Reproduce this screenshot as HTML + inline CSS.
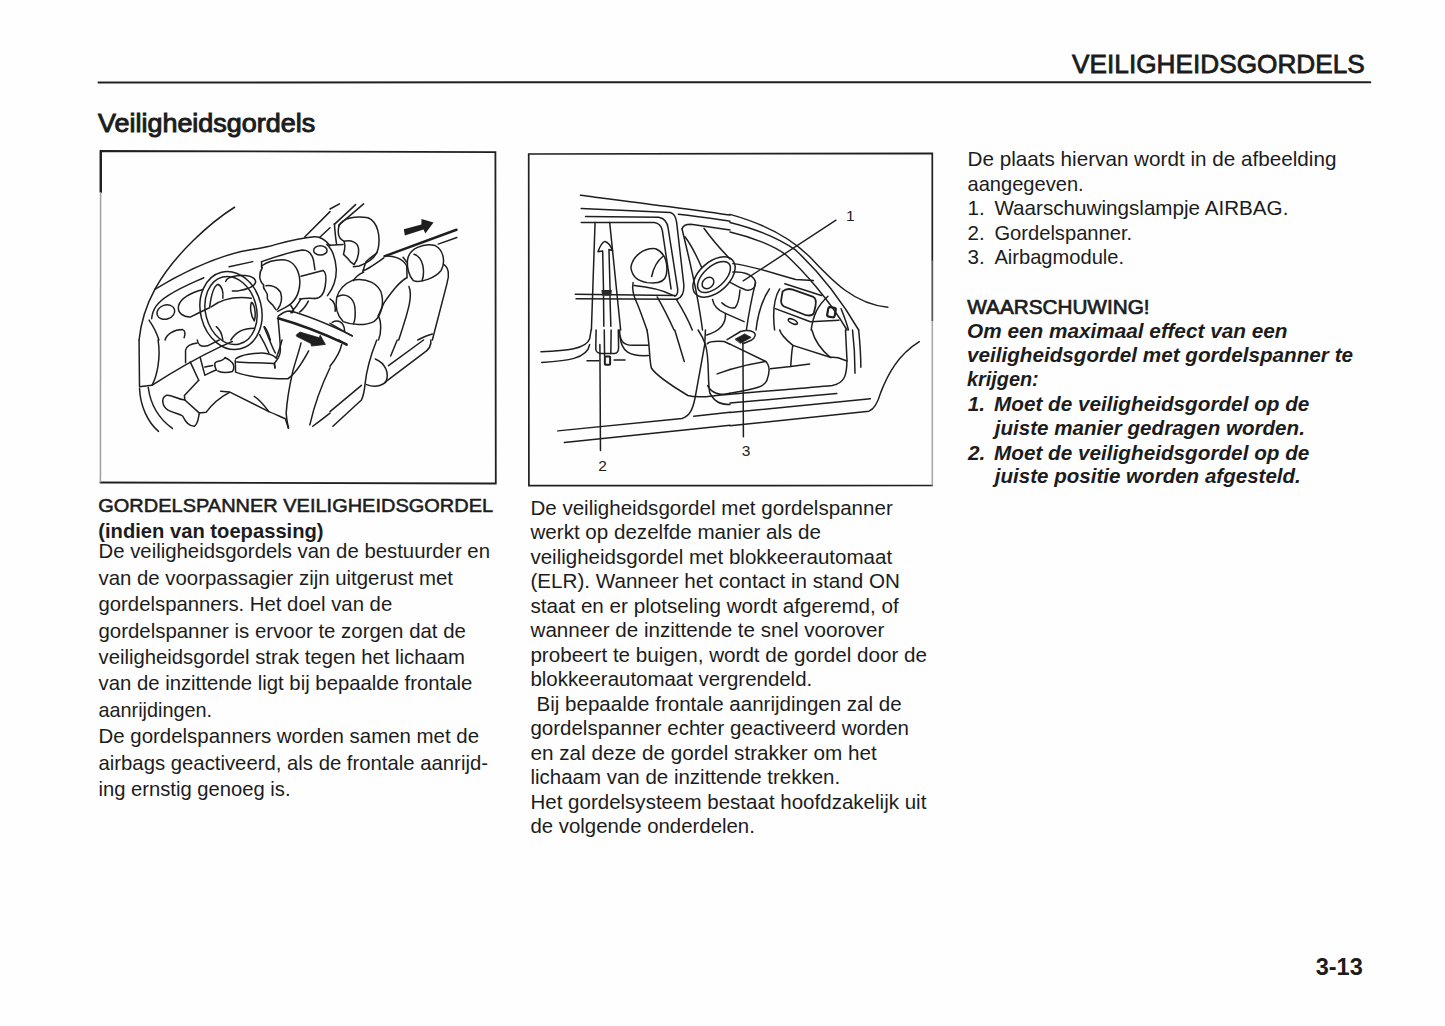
<!DOCTYPE html>
<html><head><meta charset="utf-8"><style>
html,body{margin:0;padding:0;background:#fff;width:1445px;height:1026px;overflow:hidden}
svg{display:block}
text{font-family:"Liberation Sans",sans-serif;fill:#1c1c1c}
</style></head><body>
<svg width="1445" height="1026" viewBox="0 0 1445 1026">
<rect width="1445" height="1026" fill="#fefefe"/>
<g stroke="#202020" fill="none" stroke-linecap="round">
<path d="M98.5,82.4 L1370.3,82.2" stroke-width="2"/>
<path d="M100.8,192 L100.8,151 L495.4,152.1 L495.8,483.5 L100.4,482.5" stroke-width="1.8"/>
<path d="M100.8,151 L100.8,192" stroke-width="2.4"/>
<path d="M100.6,192 L100.4,482.5" stroke-width="1.5" stroke="#a0a0a0" stroke-linecap="butt"/>
<path d="M932.3,485.5 L528.9,485.7 L528.7,154 L932.3,153.4 L932.3,260" stroke-width="1.7"/>
<path d="M932.3,260 L932.3,321" stroke-width="1.8" stroke="#5a5a5a" stroke-linecap="butt"/>
<path d="M932.3,321 L932.3,485.5" stroke-width="1.6" stroke="#a8a8a8" stroke-linecap="butt"/>
</g>
<g transform="translate(130,190) scale(0.146199)" stroke="#1e1e1e" fill="none" stroke-width="1.5" vector-effect="non-scaling-stroke" stroke-linecap="round" stroke-linejoin="round">
<path vector-effect="non-scaling-stroke" d="M715,118 C560,215 300,440 170,680 C110,790 75,900 62,1026"/>
<path vector-effect="non-scaling-stroke" d="M170,680 C300,600 520,480 760,420 C870,400 930,395 1000,372 C1100,345 1200,325 1260,320 C1300,318 1340,345 1368,380"/>
<path vector-effect="non-scaling-stroke" d="M1195,322 L1368,148 M1300,322 L1368,258"/>
<ellipse vector-effect="non-scaling-stroke" cx="1302" cy="413" rx="46" ry="32"/>
<path vector-effect="non-scaling-stroke" d="M148,880 C155,815 185,770 260,722 C360,660 440,630 505,600"/>
<path vector-effect="non-scaling-stroke" d="M678,525 L840,490"/>
<ellipse vector-effect="non-scaling-stroke" cx="245" cy="835" rx="62" ry="48" transform="rotate(-18 245 835)"/>
<path vector-effect="non-scaling-stroke" d="M500,680 C420,700 345,740 332,792 C322,840 365,870 415,868 C460,845 500,825 545,805"/>
<path vector-effect="non-scaling-stroke" d="M130,890 C165,940 185,985 198,1026"/>
<path vector-effect="non-scaling-stroke" d="M240,1026 C250,985 300,955 360,955 C378,960 380,985 370,1010"/>
<path vector-effect="non-scaling-stroke" d="M900,490 C1000,455 1100,420 1180,410 C1220,410 1245,440 1255,480 L1265,545"/>
<path vector-effect="non-scaling-stroke" d="M900,490 L900,530"/>
<path vector-effect="non-scaling-stroke" d="M900,520 C940,490 1000,475 1060,478 C1130,490 1160,560 1162,630 C1160,700 1130,770 1060,805 L1010,830"/>
<path vector-effect="non-scaling-stroke" d="M905,530 C880,570 880,620 915,650 C900,680 945,690 940,730 C930,760 975,775 985,800 L1000,820"/>
<path vector-effect="non-scaling-stroke" d="M930,655 C960,650 1010,660 1030,700 C1045,750 1030,790 1010,815"/>
<path vector-effect="non-scaling-stroke" d="M1170,590 L1320,550 C1340,560 1345,600 1335,660 C1325,720 1300,745 1260,742"/>
<path vector-effect="non-scaling-stroke" d="M1160,745 C1200,740 1240,740 1262,742"/>
<path vector-effect="non-scaling-stroke" d="M1100,790 C1120,820 1125,830 1110,840 M1220,760 C1200,800 1180,820 1160,835 M1170,745 C1150,780 1130,810 1100,840"/>
<path vector-effect="non-scaling-stroke" d="M655,625 C660,600 720,580 790,585 C840,590 865,610 858,635 C850,660 800,680 740,690 L700,690"/>
<path vector-effect="non-scaling-stroke" d="M545,800 C555,720 570,660 600,645 C630,655 640,700 635,740"/>
<path vector-effect="non-scaling-stroke" d="M555,800 C620,750 700,725 830,740"/>
<path vector-effect="non-scaling-stroke" d="M830,770 C820,800 825,860 850,895 C860,870 860,800 835,770"/>
<path vector-effect="non-scaling-stroke" d="M690,1026 C720,975 770,945 850,945"/>
<path vector-effect="non-scaling-stroke" d="M590,935 C610,950 630,990 635,1026"/>
<path vector-effect="non-scaling-stroke" d="M920,935 C940,960 950,990 960,1026"/>
</g>

<g stroke="#1e1e1e" fill="none" stroke-linecap="round" stroke-linejoin="round" stroke-width="1.5">
<path d="M707.3,343.8 C709,341.5 714.9,340.9 724.2,341.5 L730,344.3"/>
<path d="M727.1,339.7 L740.6,331.5 C744,330.5 748,330.3 749.9,330.7 C753.5,331.5 755.5,333.5 755.2,335.6 C754.5,338 752.5,339.5 751.1,340.3 L742.9,343.8"/>
<path d="M735.3,339.1 L744.7,333.9 L751.1,337.4 L740.6,343.2 Z" fill="#1e1e1e" stroke-width="0.8"/>
<path d="M742.9,342.6 L743.4,436.7"/>
<path d="M712.5,299.4 C713.7,306.4 719.5,311.1 725.4,313.4 L744.1,321.6"/>
<path d="M725.4,313.4 C726,320.4 724.2,329.8 706.7,335"/>
<path d="M721.9,302.9 C726.5,307.5 732.4,308.7 735.3,307.5 C738.2,304 739.4,297 740,290"/>
</g>

<g transform="translate(330,190) scale(0.146199)" stroke="#1e1e1e" fill="none" stroke-linecap="round" stroke-linejoin="round">
<path vector-effect="non-scaling-stroke" stroke-width="1.5" d="M0,130 L65,95 M30,235 L175,100 M60,240 L230,95"/>
<path vector-effect="non-scaling-stroke" stroke-width="1.5" d="M30,230 C35,300 40,340 45,370"/>
<path vector-effect="non-scaling-stroke" stroke-width="1.5" d="M60,250 C80,190 180,175 260,190 C330,220 345,320 330,400 C320,450 280,490 200,520 L160,525"/>
<path vector-effect="non-scaling-stroke" stroke-width="1.5" d="M60,250 C50,300 60,335 95,350 C150,340 190,360 195,400 C200,460 180,490 165,510"/>
<path vector-effect="non-scaling-stroke" stroke-width="1.5" d="M95,350 C110,380 100,410 92,440 C110,455 125,470 140,492 L165,510"/>
<path vector-effect="non-scaling-stroke" stroke-width="1.5" d="M322,429 C290,455 260,475 245,492 L224,558 M368,464 C340,485 310,505 294,516 C270,530 250,545 231,551"/>
<path vector-effect="non-scaling-stroke" stroke-width="2.5" d="M375,452 L865,272"/>
<path vector-effect="non-scaling-stroke" stroke-width="1.5" d="M740,370 L868,325"/>
<path stroke="none" fill="#1e1e1e" d="M505,268 L625,236 L626,198 L708,222 L652,298 L640,270 L512,312 Z"/>
<path vector-effect="non-scaling-stroke" stroke-width="1.5" d="M530,480 C540,400 640,360 720,380 C780,410 790,500 760,550 C720,600 620,640 570,620 C540,590 525,530 530,480 Z"/>
<path vector-effect="non-scaling-stroke" stroke-width="1.5" d="M575,440 C640,460 650,560 630,620"/>
<path vector-effect="non-scaling-stroke" stroke-width="1.5" d="M780,510 C810,530 820,580 800,640 L700,1026"/>
<path vector-effect="non-scaling-stroke" stroke-width="1.5" d="M525,600 C470,630 420,700 370,770 L330,860"/>
<path vector-effect="non-scaling-stroke" stroke-width="1.5" d="M540,660 C565,720 545,800 470,1026"/>
<path vector-effect="non-scaling-stroke" stroke-width="1.5" d="M160,615 C250,600 340,640 355,720 C370,800 340,870 300,900 C240,930 150,925 90,900 C50,860 35,800 45,740 C60,680 100,640 160,615 Z"/>
<path vector-effect="non-scaling-stroke" stroke-width="1.5" d="M50,730 C100,700 160,730 170,800 C175,850 168,900 160,915"/>
<path vector-effect="non-scaling-stroke" stroke-width="1.5" d="M161,621 C175,590 200,575 231,562"/>
<path vector-effect="non-scaling-stroke" stroke-width="1.5" d="M371,452 C430,445 500,470 525,520 L527,600"/>
<path vector-effect="non-scaling-stroke" stroke-width="1.5" d="M330,860 C352,900 352,980 332,1026"/>
<path vector-effect="non-scaling-stroke" stroke-width="1.5" d="M0,912 L152,1000 M15,905 C60,880 95,910 100,960"/>
<path vector-effect="non-scaling-stroke" stroke-width="1.5" d="M0,745 C30,760 40,800 35,830"/>
<path vector-effect="non-scaling-stroke" stroke-width="1.5" d="M0,378 L90,372"/>
<path vector-effect="non-scaling-stroke" stroke-width="1.5" d="M600,1026 C640,1005 680,990 700,985"/>
<path vector-effect="non-scaling-stroke" stroke-width="1.5" d="M500,460 L530,500"/>
</g>

<g transform="translate(130,340) scale(0.146199)" stroke="#1e1e1e" fill="none" stroke-linecap="round" stroke-linejoin="round">
<path vector-effect="non-scaling-stroke" stroke-width="1.5" d="M62,0 L65,320 L150,310 C250,245 420,140 620,45 L700,10"/>
<path vector-effect="non-scaling-stroke" stroke-width="1.5" d="M150,310 C185,250 212,120 192,0"/>
<path vector-effect="non-scaling-stroke" stroke-width="1.5" d="M65,330 C70,450 120,560 195,625"/>
<path vector-effect="non-scaling-stroke" stroke-width="1.5" d="M125,325 C140,440 200,540 290,605"/>
<path vector-effect="non-scaling-stroke" stroke-width="1.5" d="M380,155 L380,70 C385,35 420,25 460,20"/>
<path vector-effect="non-scaling-stroke" stroke-width="1.5" d="M460,0 C465,30 480,50 530,40 L610,0"/>
<path vector-effect="non-scaling-stroke" stroke-width="1.5" d="M412,150 L470,275 M480,120 L512,240"/>
<path vector-effect="non-scaling-stroke" stroke-width="1.5" d="M470,275 L372,380 L375,410 C320,405 280,370 245,380 C215,395 215,450 260,480 C300,500 340,505 360,520 C380,560 400,590 440,590 C470,570 465,530 475,500 L520,495 C560,440 620,390 680,358"/>
<path vector-effect="non-scaling-stroke" stroke-width="1.5" d="M375,410 L475,500"/>
<path vector-effect="non-scaling-stroke" stroke-width="1.5" d="M620,350 L680,355 C760,395 850,440 950,490 C1000,510 1040,530 1062,538 C1070,560 1080,590 1082,602"/>
<path vector-effect="non-scaling-stroke" stroke-width="1.5" d="M850,385 C890,410 920,450 950,490"/>
<path vector-effect="non-scaling-stroke" stroke-width="1.5" d="M512,240 C540,230 560,215 590,205"/>
<path vector-effect="non-scaling-stroke" stroke-width="1.5" d="M512,185 L565,175"/>
<path vector-effect="non-scaling-stroke" stroke-width="1.5" d="M590,205 C580,180 570,160 590,150 C610,140 640,145 650,120 C670,130 690,145 700,155 C712,170 715,200 700,215 C670,225 620,225 600,212"/>
<path vector-effect="non-scaling-stroke" stroke-width="1.5" d="M720,140 L722,215"/>
<path vector-effect="non-scaling-stroke" stroke-width="1.5" d="M722,130 C760,100 850,88 920,90 C960,95 990,110 1000,125 C1010,100 1025,60 1040,0"/>
<path vector-effect="non-scaling-stroke" stroke-width="1.5" d="M730,150 C800,155 900,158 985,160 L992,190"/>
<path vector-effect="non-scaling-stroke" stroke-width="1.5" d="M722,220 C800,250 900,265 1080,265 C1120,240 1160,190 1222,75"/>
<path vector-effect="non-scaling-stroke" stroke-width="1.5" d="M1170,20 C1150,100 1120,180 1110,230 C1090,320 1075,400 1068,500 C1072,540 1078,580 1085,602"/>
<path vector-effect="non-scaling-stroke" stroke-width="1.5" d="M1230,580 C1260,450 1300,330 1368,190"/>
<path vector-effect="non-scaling-stroke" stroke-width="1.5" d="M1250,590 C1290,560 1330,530 1368,500"/>

</g>
<g stroke="#1e1e1e" fill="none">
<ellipse cx="231" cy="310.5" rx="30.5" ry="39.5" transform="rotate(-14 231 310.5)" stroke-width="1.5"/>
<ellipse cx="231" cy="310.5" rx="25.5" ry="34.5" transform="rotate(-14 231 310.5)" stroke-width="1.5"/>
</g>

<g transform="translate(330,340) scale(0.146199)" stroke="#1e1e1e" fill="none" stroke-linecap="round" stroke-linejoin="round">
<path vector-effect="non-scaling-stroke" stroke-width="1.5" d="M0,180 C40,130 70,80 80,30 M60,0 L115,35"/>
<path vector-effect="non-scaling-stroke" stroke-width="1.5" d="M320,0 C280,100 250,200 240,300 C235,350 230,380 215,410 L20,590"/>
<path vector-effect="non-scaling-stroke" stroke-width="1.5" d="M215,310 L0,490"/>
<path vector-effect="non-scaling-stroke" stroke-width="1.5" d="M310,130 C380,160 410,230 380,290 C340,320 290,320 250,305"/>
<path vector-effect="non-scaling-stroke" stroke-width="1.5" d="M460,0 L415,110 M640,0 L400,175 M690,0 C695,40 670,70 640,90 L375,290"/>
</g>

<g stroke="#1e1e1e" fill="none" stroke-linecap="round" stroke-linejoin="round">
<path d="M278.1,318.3 C295,323 320,332 346.5,344.4" stroke-width="2.6"/>
<path d="M278.1,316.3 C282,313 286,311 290,311 C310,316 330,325 352.2,335.6" stroke-width="1.5"/>
<path d="M296.5,334.7 L300,332.1 L319.3,337.8 L320.2,335.2 L325.4,344.4 L311.4,346.1 L311,343.5 L296.9,336.5 Z" fill="#1e1e1e" stroke-width="0.8"/>
<path d="M264,327 C269,338 273,350 275.4,353 M259.6,334.7 C264,342 267.6,350 268.9,353" stroke-width="1.5"/>
<path d="M278.1,319 C279,330 280.7,345 280.3,351 C280,357 277,360 274.6,363 L275,368" stroke-width="1.5"/>
<path d="M326.8,244.4 C332,249 335.5,258 336.3,269.2 C336.5,280 332,290 327.5,295.6" stroke-width="1.5"/>
</g>

<g transform="translate(530,180) scale(0.146199)" stroke="#1e1e1e" fill="none" stroke-linecap="round" stroke-linejoin="round">
<path vector-effect="non-scaling-stroke" stroke-width="1.5" d="M345,105 C700,150 1100,200 1368,240"/>
<path vector-effect="non-scaling-stroke" stroke-width="1.5" d="M350,195 L960,222 C985,228 998,255 1003,290 L1052,715 C1055,770 1040,800 1010,812"/>
<path vector-effect="non-scaling-stroke" stroke-width="1.5" d="M380,250 L880,255 C920,262 940,290 945,330 L1010,745 C1012,772 1002,790 990,795"/>
<path vector-effect="non-scaling-stroke" stroke-width="1.5" d="M350,290 L850,290 C880,295 900,320 905,345 L965,745"/>
<path vector-effect="non-scaling-stroke" stroke-width="1.5" d="M310,782 L990,790 M315,812 L1010,815"/>
<path vector-effect="non-scaling-stroke" stroke-width="1.5" d="M445,290 L420,1026 M545,290 L620,1026"/>
<path vector-effect="non-scaling-stroke" stroke-width="1.5" d="M497,485 L465,490 C480,450 495,425 512,420 C535,425 555,455 565,482 L540,475 L548,758 M497,485 L503,758"/>
<path stroke="none" fill="#2a2a2a" d="M488,752 L560,752 L556,792 L494,792 Z"/>
<path vector-effect="non-scaling-stroke" stroke-width="1.5" d="M503,795 L505,1000 M547,795 L553,1000"/>
<path vector-effect="non-scaling-stroke" stroke-width="1.5" d="M690,600 C700,520 780,462 860,470 C930,500 945,580 932,650 C920,700 870,712 800,702 C730,690 700,660 690,600 Z"/>
<path vector-effect="non-scaling-stroke" stroke-width="1.5" d="M912,520 C862,560 842,610 832,660"/>
<path vector-effect="non-scaling-stroke" stroke-width="1.5" d="M705,702 C698,740 705,790 735,850 C760,910 780,970 800,1026"/>
<path vector-effect="non-scaling-stroke" stroke-width="1.5" d="M712,722 C800,730 900,750 975,788"/>
<path vector-effect="non-scaling-stroke" stroke-width="1.5" d="M870,800 C910,870 950,950 985,1026 M1000,815 C1040,880 1080,950 1110,1026"/>
<path vector-effect="non-scaling-stroke" stroke-width="1.5" d="M1015,235 C1150,250 1270,268 1368,282"/>
<path vector-effect="non-scaling-stroke" stroke-width="1.5" d="M1040,335 C1045,312 1065,302 1100,302 L1368,342"/>
<path vector-effect="non-scaling-stroke" stroke-width="1.5" d="M1040,335 C1080,500 1120,680 1140,780 C1155,860 1170,950 1180,1026"/>
<path vector-effect="non-scaling-stroke" stroke-width="1.5" d="M1060,388 C1100,440 1140,520 1175,600 M1190,330 C1240,400 1300,470 1368,540"/>
</g>
<g stroke="#1e1e1e" fill="none" stroke-width="1.5">
<ellipse cx="714" cy="277" rx="25" ry="15" transform="rotate(-42 714 277)"/>
<ellipse cx="714" cy="277" rx="20" ry="10.5" transform="rotate(-42 714 277)"/>
<ellipse cx="708" cy="283" rx="6.5" ry="5" transform="rotate(-42 708 283)"/>
</g>

<g transform="translate(730,180) scale(0.146199)" stroke="#1e1e1e" fill="none" stroke-linecap="round" stroke-linejoin="round">
<path vector-effect="non-scaling-stroke" stroke-width="1.5" d="M0,235 C200,290 400,380 550,530 C700,690 850,850 1080,870"/>
<path vector-effect="non-scaling-stroke" stroke-width="1.5" d="M0,290 C200,340 350,410 450,480 C600,620 760,820 880,1026"/>
<path vector-effect="non-scaling-stroke" stroke-width="1.5" d="M0,355 C150,390 300,450 380,510 C500,620 680,820 800,1026"/>
<path vector-effect="non-scaling-stroke" stroke-width="1.4" d="M90,690 L725,275"/>
<path vector-effect="non-scaling-stroke" stroke-width="1.5" d="M20,572 C150,585 300,640 450,680 L570,688"/>
<path vector-effect="non-scaling-stroke" stroke-width="1.5" d="M20,630 C80,625 150,640 172,690 C182,735 150,760 110,752 C80,745 40,720 0,700"/>
<path vector-effect="non-scaling-stroke" stroke-width="1.8" d="M360,762 C380,745 405,742 430,750 L570,800 C590,810 590,830 585,860 L575,905 C570,925 550,930 520,925 L370,865 C350,855 348,840 350,820 Z"/>
<path vector-effect="non-scaling-stroke" stroke-width="1.5" d="M375,710 L625,790"/>
<path vector-effect="non-scaling-stroke" stroke-width="1.5" d="M670,795 C600,860 570,920 555,1026"/>
<path vector-effect="non-scaling-stroke" stroke-width="1.5" d="M310,880 L550,970 L745,960"/>
<path vector-effect="non-scaling-stroke" stroke-width="1.5" d="M270,745 C220,820 190,920 178,1026 M340,745 C300,810 290,900 305,1026"/>
<ellipse vector-effect="non-scaling-stroke" stroke-width="1.5" cx="430" cy="968" rx="34" ry="14" transform="rotate(25 430 968)"/>
<rect vector-effect="non-scaling-stroke" stroke-width="2.2" x="668" y="872" width="52" height="65" rx="12" transform="rotate(10 694 905)"/>
<path vector-effect="non-scaling-stroke" stroke-width="1.5" d="M175,700 C150,800 130,900 112,1026"/>
<path vector-effect="non-scaling-stroke" stroke-width="1.5" d="M760,880 C780,930 800,980 810,1026"/>
</g>
<text x="846" y="221" font-size="15.5" font-family="Liberation Sans" fill="#1e1e1e">1</text>

<g transform="translate(530,330) scale(0.146199)" stroke="#1e1e1e" fill="none" stroke-linecap="round" stroke-linejoin="round">
<path vector-effect="non-scaling-stroke" stroke-width="1.5" d="M75,148 C250,142 385,130 408,60 L418,0"/>
<path vector-effect="non-scaling-stroke" stroke-width="1.5" d="M80,222 C250,210 390,200 408,100"/>
<path vector-effect="non-scaling-stroke" stroke-width="1.5" d="M612,0 C615,80 640,102 700,105 L810,105"/>
<path vector-effect="non-scaling-stroke" stroke-width="1.5" d="M615,40 C625,150 680,182 810,175"/>
<path vector-effect="non-scaling-stroke" stroke-width="1.5" d="M452,0 L450,130 C450,150 470,160 490,160 L580,160 C600,158 606,140 606,120 L604,0"/>
<path vector-effect="non-scaling-stroke" stroke-width="1.5" d="M508,0 L510,178 M555,0 L553,160"/>
<rect vector-effect="non-scaling-stroke" stroke-width="2" x="512" y="182" width="36" height="55" rx="5"/>
<path vector-effect="non-scaling-stroke" stroke-width="1.5" d="M390,210 L470,210 M575,205 L650,205"/>
<path vector-effect="non-scaling-stroke" stroke-width="1.5" d="M478,100 L482,825"/>
<path vector-effect="non-scaling-stroke" stroke-width="1.5" d="M190,690 L1040,605 C1090,590 1112,550 1130,460 L1195,100 L1200,0"/>
<path vector-effect="non-scaling-stroke" stroke-width="1.5" d="M235,770 L1368,652 M1120,590 L1368,562"/>
<path vector-effect="non-scaling-stroke" stroke-width="1.5" d="M800,0 C820,100 815,200 830,260 C870,320 1000,400 1080,448 C1150,470 1250,455 1368,432"/>
<path vector-effect="non-scaling-stroke" stroke-width="1.5" d="M990,0 L1055,215"/>
<path vector-effect="non-scaling-stroke" stroke-width="1.5" d="M1200,100 C1230,200 1212,350 1230,430 C1260,490 1300,510 1368,510"/>
<path vector-effect="non-scaling-stroke" stroke-width="1.5" d="M1215,380 C1240,430 1300,450 1368,440 M1280,300 L1368,270"/>
<path vector-effect="non-scaling-stroke" stroke-width="1.5" d="M1150,0 C1170,30 1190,70 1200,100"/>
</g>
<text x="598.3" y="471" font-size="15.5" font-family="Liberation Sans" fill="#1e1e1e">2</text>

<g transform="translate(730,330) scale(0.146199)" stroke="#1e1e1e" fill="none" stroke-linecap="round" stroke-linejoin="round">
<path vector-effect="non-scaling-stroke" stroke-width="1.5" d="M0,97 L245,215 C280,250 270,300 250,350 C230,385 200,400 0,432"/>
<path vector-effect="non-scaling-stroke" stroke-width="1.5" d="M0,270 C100,240 200,222 245,215"/>
<path vector-effect="non-scaling-stroke" stroke-width="1.5" d="M275,265 L415,250 L545,232"/>
<path vector-effect="non-scaling-stroke" stroke-width="1.5" d="M415,250 C420,200 420,150 430,105 L680,185 L740,190 L800,212"/>
<path vector-effect="non-scaling-stroke" stroke-width="1.5" d="M430,105 C400,80 350,40 340,0 M560,0 C580,80 640,150 690,190"/>
<path vector-effect="non-scaling-stroke" stroke-width="1.5" d="M0,440 C200,420 500,400 700,380 C780,362 800,320 800,200 L790,0"/>
<path vector-effect="non-scaling-stroke" stroke-width="1.5" d="M0,500 L730,435 M0,565 L960,470"/>
<path vector-effect="non-scaling-stroke" stroke-width="1.5" d="M0,655 L950,555 C990,540 1010,500 1030,430 C1080,300 1150,170 1295,80"/>
<path vector-effect="non-scaling-stroke" stroke-width="1.5" d="M838,0 C850,100 855,200 855,295 M880,0 C890,100 895,200 895,255"/>
</g>
<text x="741.8" y="455.8" font-size="15.5" font-family="Liberation Sans" fill="#1e1e1e">3</text>

<text x="1072.10" y="73.20" font-size="25.5" font-weight="400" font-style="normal" textLength="292.70" lengthAdjust="spacingAndGlyphs" stroke="#1c1c1c" stroke-width="0.8">VEILIGHEIDSGORDELS</text>
<text x="98.00" y="131.60" font-size="25" font-weight="400" font-style="normal" textLength="217.14" lengthAdjust="spacingAndGlyphs" stroke="#1c1c1c" stroke-width="0.95">Veiligheidsgordels</text>
<text x="98.30" y="512.20" font-size="19.2" font-weight="400" font-style="normal" textLength="394.79" lengthAdjust="spacingAndGlyphs" stroke="#1c1c1c" stroke-width="0.55">GORDELSPANNER VEILIGHEIDSGORDEL</text>
<text x="98.30" y="537.80" font-size="19.8" font-weight="700" font-style="normal" textLength="225.27" lengthAdjust="spacingAndGlyphs">(indien van toepassing)</text>
<text x="98.50" y="558.40" font-size="20.3" font-weight="400" font-style="normal" textLength="391.50" lengthAdjust="spacingAndGlyphs" fill="#2e2e2e">De veiligheidsgordels van de bestuurder en</text>
<text x="98.50" y="584.80" font-size="20.3" font-weight="400" font-style="normal" textLength="354.47" lengthAdjust="spacingAndGlyphs" fill="#2e2e2e">van de voorpassagier zijn uitgerust met</text>
<text x="98.50" y="611.20" font-size="20.3" font-weight="400" font-style="normal" textLength="293.69" lengthAdjust="spacingAndGlyphs" fill="#2e2e2e">gordelspanners. Het doel van de</text>
<text x="98.50" y="637.60" font-size="20.3" font-weight="400" font-style="normal" textLength="367.34" lengthAdjust="spacingAndGlyphs" fill="#2e2e2e">gordelspanner is ervoor te zorgen dat de</text>
<text x="98.50" y="664.00" font-size="20.3" font-weight="400" font-style="normal" textLength="366.43" lengthAdjust="spacingAndGlyphs" fill="#2e2e2e">veiligheidsgordel strak tegen het lichaam</text>
<text x="98.50" y="690.40" font-size="20.3" font-weight="400" font-style="normal" textLength="373.85" lengthAdjust="spacingAndGlyphs" fill="#2e2e2e">van de inzittende ligt bij bepaalde frontale</text>
<text x="98.50" y="716.80" font-size="20.3" font-weight="400" font-style="normal" textLength="113.54" lengthAdjust="spacingAndGlyphs" fill="#2e2e2e">aanrijdingen.</text>
<text x="98.50" y="743.20" font-size="20.3" font-weight="400" font-style="normal" textLength="380.54" lengthAdjust="spacingAndGlyphs" fill="#2e2e2e">De gordelspanners worden samen met de</text>
<text x="98.50" y="769.60" font-size="20.3" font-weight="400" font-style="normal" textLength="389.47" lengthAdjust="spacingAndGlyphs" fill="#2e2e2e">airbags geactiveerd, als de frontale aanrijd-</text>
<text x="98.50" y="796.00" font-size="20.3" font-weight="400" font-style="normal" textLength="192.03" lengthAdjust="spacingAndGlyphs" fill="#2e2e2e">ing ernstig genoeg is.</text>
<text x="530.40" y="515.00" font-size="20.5" font-weight="400" font-style="normal" textLength="362.34" lengthAdjust="spacingAndGlyphs" fill="#2e2e2e">De veiligheidsgordel met gordelspanner</text>
<text x="530.50" y="539.49" font-size="20.5" font-weight="400" font-style="normal" textLength="290.48" lengthAdjust="spacingAndGlyphs" fill="#2e2e2e">werkt op dezelfde manier als de</text>
<text x="530.40" y="563.98" font-size="20.5" font-weight="400" font-style="normal" textLength="361.73" lengthAdjust="spacingAndGlyphs" fill="#2e2e2e">veiligheidsgordel met blokkeerautomaat</text>
<text x="530.40" y="588.47" font-size="20.5" font-weight="400" font-style="normal" textLength="369.52" lengthAdjust="spacingAndGlyphs" fill="#2e2e2e">(ELR). Wanneer het contact in stand ON</text>
<text x="530.40" y="612.96" font-size="20.5" font-weight="400" font-style="normal" textLength="368.37" lengthAdjust="spacingAndGlyphs" fill="#2e2e2e">staat en er plotseling wordt afgeremd, of</text>
<text x="530.50" y="637.45" font-size="20.5" font-weight="400" font-style="normal" textLength="353.95" lengthAdjust="spacingAndGlyphs" fill="#2e2e2e">wanneer de inzittende te snel voorover</text>
<text x="530.40" y="661.94" font-size="20.5" font-weight="400" font-style="normal" textLength="396.52" lengthAdjust="spacingAndGlyphs" fill="#2e2e2e">probeert te buigen, wordt de gordel door de</text>
<text x="530.40" y="686.43" font-size="20.5" font-weight="400" font-style="normal" textLength="281.83" lengthAdjust="spacingAndGlyphs" fill="#2e2e2e">blokkeerautomaat vergrendeld.</text>
<text x="536.60" y="710.92" font-size="20.5" font-weight="400" font-style="normal" textLength="365.02" lengthAdjust="spacingAndGlyphs" fill="#2e2e2e">Bij bepaalde frontale aanrijdingen zal de</text>
<text x="530.40" y="735.41" font-size="20.5" font-weight="400" font-style="normal" textLength="378.63" lengthAdjust="spacingAndGlyphs" fill="#2e2e2e">gordelspanner echter geactiveerd worden</text>
<text x="530.40" y="759.90" font-size="20.5" font-weight="400" font-style="normal" textLength="346.34" lengthAdjust="spacingAndGlyphs" fill="#2e2e2e">en zal deze de gordel strakker om het</text>
<text x="530.40" y="784.39" font-size="20.5" font-weight="400" font-style="normal" textLength="309.80" lengthAdjust="spacingAndGlyphs" fill="#2e2e2e">lichaam van de inzittende trekken.</text>
<text x="530.40" y="808.88" font-size="20.5" font-weight="400" font-style="normal" textLength="395.97" lengthAdjust="spacingAndGlyphs" fill="#2e2e2e">Het gordelsysteem bestaat hoofdzakelijk uit</text>
<text x="530.40" y="833.37" font-size="20.5" font-weight="400" font-style="normal" textLength="224.49" lengthAdjust="spacingAndGlyphs" fill="#2e2e2e">de volgende onderdelen.</text>
<text x="967.50" y="166.00" font-size="20.6" font-weight="400" font-style="normal" textLength="368.90" lengthAdjust="spacingAndGlyphs" fill="#2e2e2e">De plaats hiervan wordt in de afbeelding</text>
<text x="967.50" y="190.60" font-size="20.6" font-weight="400" font-style="normal" textLength="116.17" lengthAdjust="spacingAndGlyphs" fill="#2e2e2e">aangegeven.</text>
<text x="967.50" y="215.20" font-size="20.6" font-weight="400" font-style="normal" fill="#2e2e2e">1.</text>
<text x="994.40" y="215.20" font-size="20.6" font-weight="400" font-style="normal" textLength="294.03" lengthAdjust="spacingAndGlyphs" fill="#2e2e2e">Waarschuwingslampje AIRBAG.</text>
<text x="967.50" y="239.80" font-size="20.6" font-weight="400" font-style="normal" fill="#2e2e2e">2.</text>
<text x="994.40" y="239.80" font-size="20.6" font-weight="400" font-style="normal" textLength="137.76" lengthAdjust="spacingAndGlyphs" fill="#2e2e2e">Gordelspanner.</text>
<text x="967.50" y="264.40" font-size="20.6" font-weight="400" font-style="normal" fill="#2e2e2e">3.</text>
<text x="994.40" y="264.40" font-size="20.6" font-weight="400" font-style="normal" textLength="129.67" lengthAdjust="spacingAndGlyphs" fill="#2e2e2e">Airbagmodule.</text>
<text x="967.30" y="314.10" font-size="20" font-weight="400" font-style="normal" textLength="182.22" lengthAdjust="spacingAndGlyphs" stroke="#1c1c1c" stroke-width="0.7">WAARSCHUWING!</text>
<text x="967.00" y="337.50" font-size="20.7" font-weight="700" font-style="italic" textLength="320.48" lengthAdjust="spacingAndGlyphs">Om een maximaal effect van een</text>
<text x="967.00" y="361.80" font-size="20.7" font-weight="700" font-style="italic" textLength="386.02" lengthAdjust="spacingAndGlyphs">veiligheidsgordel met gordelspanner te</text>
<text x="967.00" y="386.10" font-size="20.7" font-weight="700" font-style="italic" textLength="71.74" lengthAdjust="spacingAndGlyphs">krijgen:</text>
<text x="967.70" y="410.50" font-size="20.7" font-weight="700" font-style="italic">1.</text>
<text x="994.00" y="410.50" font-size="20.7" font-weight="700" font-style="italic" textLength="315.39" lengthAdjust="spacingAndGlyphs">Moet de veiligheidsgordel op de</text>
<text x="994.77" y="434.80" font-size="20.7" font-weight="700" font-style="italic" textLength="310.12" lengthAdjust="spacingAndGlyphs">juiste manier gedragen worden.</text>
<text x="968.11" y="459.60" font-size="20.7" font-weight="700" font-style="italic">2.</text>
<text x="994.00" y="459.60" font-size="20.7" font-weight="700" font-style="italic" textLength="315.39" lengthAdjust="spacingAndGlyphs">Moet de veiligheidsgordel op de</text>
<text x="994.76" y="483.40" font-size="20.7" font-weight="700" font-style="italic" textLength="306.08" lengthAdjust="spacingAndGlyphs">juiste positie worden afgesteld.</text>
<text x="1315.70" y="974.50" font-size="24" font-weight="700" font-style="normal" textLength="47.04" lengthAdjust="spacingAndGlyphs">3-13</text>
</svg>
</body></html>
